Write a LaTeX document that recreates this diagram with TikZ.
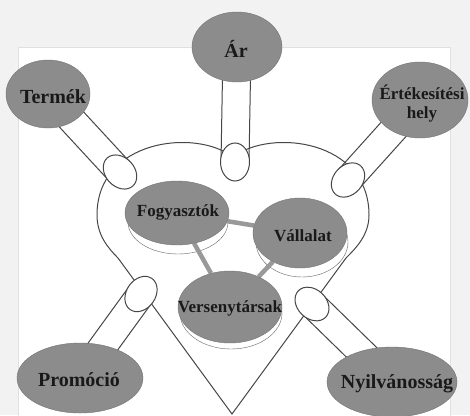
\documentclass[tikz,border=0pt]{standalone}
\usepackage{fontspec}
\setmainfont{Liberation Serif}
\usetikzlibrary{shapes.geometric,calc}
\definecolor{ovalgray}{RGB}{140,140,140}
\definecolor{linegray}{RGB}{70,70,70}
\pgfdeclarelayer{bg}
\pgfdeclarelayer{mid}
\pgfsetlayers{bg,mid,main}
% two parallel lines from an outer oval to its pin
\newcommand{\pintube}[2]{%
  \draw[line] ($(#1)!14pt!90:(#2)$) -- ($(#2)!14pt!-90:(#1)$);
  \draw[line] ($(#1)!14pt!-90:(#2)$) -- ($(#2)!14pt!90:(#1)$);}

\begin{document}
\begin{tikzpicture}[x=1pt,y=1pt,yscale=-1,
  line/.style={draw=linegray, line width=1pt},
  oval/.style={ellipse, draw=black!55, fill=ovalgray, inner sep=0pt},
  shade/.style={ellipse, draw=black!60, fill=white, inner sep=0pt},
  pin/.style={ellipse, line, fill=white, inner sep=0pt, minimum width=38pt, minimum height=29pt},
  big/.style={font=\bfseries\fontsize{20}{22}\selectfont, text=black!90, inner sep=0pt},
  small/.style={font=\bfseries\fontsize{17}{19}\selectfont, text=black!90, inner sep=0pt},
  link/.style={draw=black!40, line width=4.5pt}]
\useasboundingbox (0,0) rectangle (470,415);

\begin{pgfonlayer}{bg}
\fill[black!5] (0,0) rectangle (470,415);
\draw[black!12, fill=white] (18,47) rectangle (450,425);
% heart
\draw[line] (233,157) .. controls (195,128) and (97,140) .. (97,215)
  .. controls (97,235) and (108,248) .. (118,258) -- (232,414)
  -- (346,258) .. controls (356,248) and (369,235) .. (369,215)
  .. controls (369,140) and (271,128) .. (233,157);
\end{pgfonlayer}

% outer ovals
\node[oval, minimum width=90pt, minimum height=70pt] (ar) at (237,47) {};
\node[oval, minimum width=84pt, minimum height=68pt] (termek) at (48,94) {};
\node[oval, minimum width=96pt, minimum height=76pt] (ertek) at (420,100) {};
\node[oval, minimum width=126pt, minimum height=70pt] (promocio) at (80,378) {};
\node[oval, minimum width=130pt, minimum height=70pt] (nyilv) at (392,382) {};

% pins on the heart
\node[pin, rotate=90] (ar-pin) at (235,162) {};
\node[pin, rotate=-47] (termek-pin) at (120,172) {};
\node[pin, rotate=48] (ertek-pin) at (348,180) {};
\node[pin, rotate=55] (promocio-pin) at (141,294) {};
\node[pin, rotate=-44] (nyilv-pin) at (312,304) {};

\begin{pgfonlayer}{bg}
\pintube{ar}{ar-pin}
\pintube{termek}{termek-pin}
\pintube{ertek}{ertek-pin}
\pintube{promocio}{promocio-pin}
\pintube{nyilv}{nyilv-pin}
\end{pgfonlayer}

% inner ovals with their shadows
\begin{pgfonlayer}{mid}
\node[shade, minimum width=100pt, minimum height=64pt] (fogy-s) at (178,222) {};
\node[shade, minimum width=92pt, minimum height=70pt] (vall-s) at (302,242) {};
\node[shade, minimum width=102pt, minimum height=72pt] (vers-s) at (231,313) {};
\end{pgfonlayer}
\node[oval, minimum width=104pt, minimum height=64pt] (fogy) at (177,213) {};
\node[oval, minimum width=94pt, minimum height=70pt] (vall) at (300,233) {};
\node[oval, minimum width=104pt, minimum height=72pt] (vers) at (230,307) {};
\begin{pgfonlayer}{mid}
\draw[link] (fogy) -- (vall);
\draw[link] (fogy) -- (vers);
\draw[link] (vall) -- (vers);
\end{pgfonlayer}

% texts
\node[big] (ar-t) at (236,49) {Ár};
\node[big] (termek-t) at (53,97) {Termék};
\node[small, align=center] (ertek-t) at (422,104) {Értékesítési\\hely};
\node[big] (promocio-t) at (79,380) {Promóció};
\node[big] (nyilv-t) at (397,384) {Nyilvánosság};
\node[small] (fogy-t) at (178,212) {Fogyasztók};
\node[small] (vall-t) at (303,236) {Vállalat};
\node[small] (vers-t) at (230,308) {Versenytársak};
\end{tikzpicture}
\end{document}
